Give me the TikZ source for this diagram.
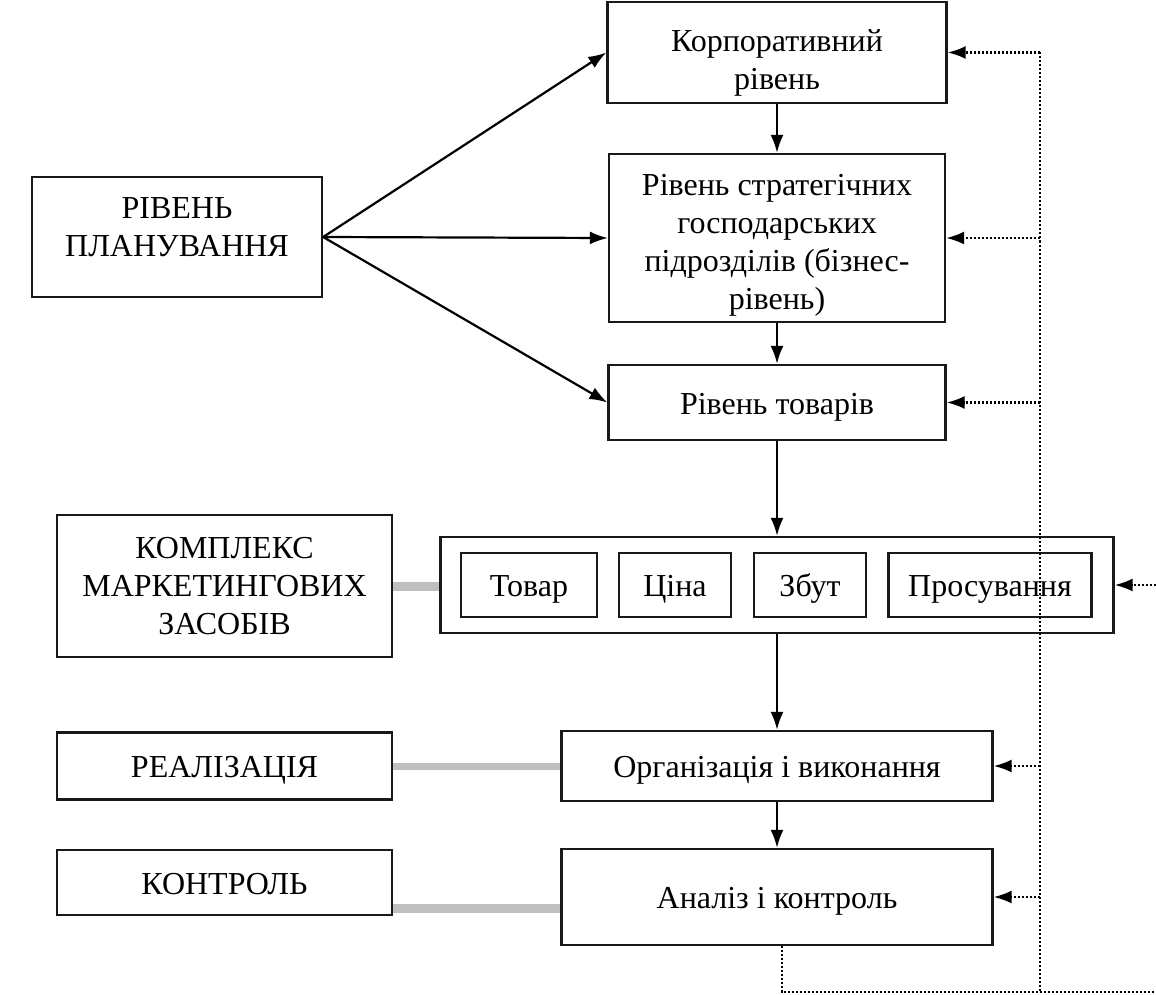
\documentclass[tikz,border=0pt]{standalone}
\usepackage{fontspec}
\setmainfont{Liberation Serif}
\usetikzlibrary{arrows.meta}
\begin{document}
\begin{tikzpicture}[x=1pt,y=-1pt,
  box/.style={draw=black!90, line width=2.3pt, align=center, inner sep=0pt, font=\fontsize{32}{38}\selectfont},
  txt/.style={align=center, inner sep=0pt, font=\fontsize{32}{38}\selectfont},
  one/.style={text height=28pt, text depth=5pt},
  arr/.style={line width=2.2pt, -{Latex[length=18pt,width=13pt]}},
  fb/.style={line width=2.3pt, dash pattern=on 2pt off 2pt},
  fbarr/.style={fb, -{Latex[length=18pt,width=13pt]}},
  link/.style={line width=9pt, draw=black!25}]
\useasboundingbox (0,0) rectangle (1156,995);
% left column
\node[box, minimum width=290pt, minimum height=120pt] (plan) at (177,237) {РІВЕНЬ\\ПЛАНУВАННЯ\\[-18pt]\mbox{}};
\node[box, minimum width=335pt, minimum height=142pt] (kml) at (224.5,586) {КОМПЛЕКС\\МАРКЕТИНГОВИХ\\ЗАСОБІВ};
\node[box, one, minimum width=335pt, minimum height=67pt] (real) at (224.5,766) {РЕАЛІЗАЦІЯ};
\node[box, one, minimum width=335pt, minimum height=65pt] (kontr) at (224.5,882.5) {КОНТРОЛЬ};
% main column
\node[box, minimum width=339pt, minimum height=101pt] (corp) at (777,52.5) {};
\node[txt] (corpt) at (777,63) {Корпоративний\\рівень};
\node[box, minimum width=336pt, minimum height=168pt] (strat) at (777,238) {};
\node[txt] (stratt) at (777,245) {Рівень стратегічних\\господарських\\підрозділів (бізнес-\\рівень)};
\node[box, one, minimum width=337pt, minimum height=75pt] (tov) at (777,402.5) {Рівень товарів};
\node[box, minimum width=673pt, minimum height=96pt] (kompl) at (777,585) {};
\node[box, one, minimum width=136pt, minimum height=64pt] (tovar) at (529,585) {Товар};
\node[box, one, minimum width=112pt, minimum height=64pt] (cina) at (675,585) {Ціна};
\node[box, one, minimum width=112pt, minimum height=64pt] (zbut) at (810,585) {Збут};
\node[box, one, minimum width=203pt, minimum height=64pt] (prosuv) at (990,585) {Просування};
\node[box, one, minimum width=431pt, minimum height=70pt] (org) at (777,766) {Організація і виконання};
\node[box, one, minimum width=431pt, minimum height=96pt] (anal) at (777,897) {Аналіз і контроль};
% solid arrows
\draw[arr] (plan.east) -- (corp.west);
\draw[arr] (plan.east) -- (strat.west);
\draw[arr] (plan.east) -- (tov.west);
\draw[arr] (corp.south) -- (strat.north);
\draw[arr] (strat.south) -- (tov.north);
\draw[arr] (tov.south) -- (kompl.north);
\draw[arr] (kompl.south) -- (org.north);
\draw[arr] (org.south) -- (anal.north);
% grey links
\draw[link] (kml.east |- 0,586) -- (kompl.west |- 0,586);
\draw[link, line width=7pt] (real.east) -- (org.west);
\draw[link] (kontr.east |- 0,908) -- (anal.west |- 0,908);
% feedback
\coordinate (fbtop) at (1040,52.5);
\coordinate (fbbot) at (1040,992);
\coordinate (lb) at (782,992);
\coordinate (re) at (1156,992);
\coordinate (kin) at (1156,585);
\draw[fb] (fbtop) -- (fbbot);
\draw[fb] (anal.south -| lb) -- (lb) -- (re);
\draw[fbarr] (fbtop) -- (corp.east);
\draw[fbarr] (strat.east -| fbtop) -- (strat.east);
\draw[fbarr] (tov.east -| fbtop) -- (tov.east);
\draw[fbarr] (org.east -| fbtop) -- (org.east);
\draw[fbarr] (anal.east -| fbtop) -- (anal.east);
\draw[fbarr] (kin) -- (kompl.east);
\end{tikzpicture}
\end{document}
